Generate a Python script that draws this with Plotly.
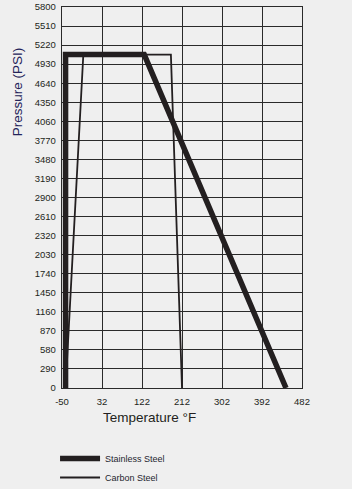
import plotly.graph_objects as go

# ---- data ----
stainless_temp = [-50, -50, 127, 446]
stainless_psi = [0, 5076, 5076, 0]
carbon_temp = [-50, -10, 187, 212]
carbon_psi = [0, 5076, 5076, 0]

x_tickvals = [-58, 32, 122, 212, 302, 392, 482]
x_ticktext = ["-50", "32", "122", "212", "302", "392", "482"]
y_tickvals = [0, 290, 580, 870, 1160, 1450, 1740, 2030, 2320, 2610, 2900,
              3190, 3480, 3770, 4060, 4350, 4640, 4930, 5220, 5510, 5800]

BG = "#efefef"
INK = "#231f20"
GRID = "#2a2a2a"
FONT = "Arial, Liberation Sans, sans-serif"

fig = go.Figure()
fig.add_trace(go.Scatter(x=stainless_temp, y=stainless_psi, mode="lines",
                         name="Stainless Steel",
                         line=dict(color=INK, width=5.5)))
fig.add_trace(go.Scatter(x=carbon_temp, y=carbon_psi, mode="lines",
                         name="Carbon Steel",
                         line=dict(color=INK, width=1.8)))

fig.update_layout(
    width=352, height=489,
    margin=dict(l=62, r=50, t=6.5, b=100.5, autoexpand=False),
    paper_bgcolor=BG, plot_bgcolor=BG,
    font=dict(family=FONT, color=INK, size=9.5),
    showlegend=True,
    legend=dict(x=-0.029, y=-0.147, xanchor="left", yanchor="top",
                bgcolor="rgba(0,0,0,0)", font=dict(size=9, color="#1f1f30"),
                itemwidth=40, tracegroupgap=0),
)
fig.update_xaxes(range=[-58, 482], tickvals=x_tickvals, ticktext=x_ticktext,
                 showgrid=True, gridcolor=GRID, gridwidth=1.4,
                 showline=True, linecolor=GRID, linewidth=1.4, mirror=True,
                 zeroline=False, ticks="", ticklabelstandoff=4,
                 tickfont=dict(size=9.5))
fig.update_yaxes(range=[0, 5800], tickvals=y_tickvals,
                 showgrid=True, gridcolor=GRID, gridwidth=1.4,
                 showline=True, linecolor=GRID, linewidth=1.4, mirror=True,
                 zeroline=False, ticks="", ticklabelstandoff=3,
                 tickfont=dict(size=9.5))

fig.add_annotation(text="Pressure (PSI)", textangle=-90, xref="paper", yref="paper",
                   x=-0.185, y=0.778, xanchor="center", yanchor="middle",
                   showarrow=False, font=dict(size=13.5, color="#24245a"))
fig.add_annotation(text="Temperature °F", xref="paper", yref="paper",
                   x=0.365, y=-0.078, xanchor="center", yanchor="middle",
                   showarrow=False, font=dict(size=13.5, color=INK))

fig.write_html("out.html")
